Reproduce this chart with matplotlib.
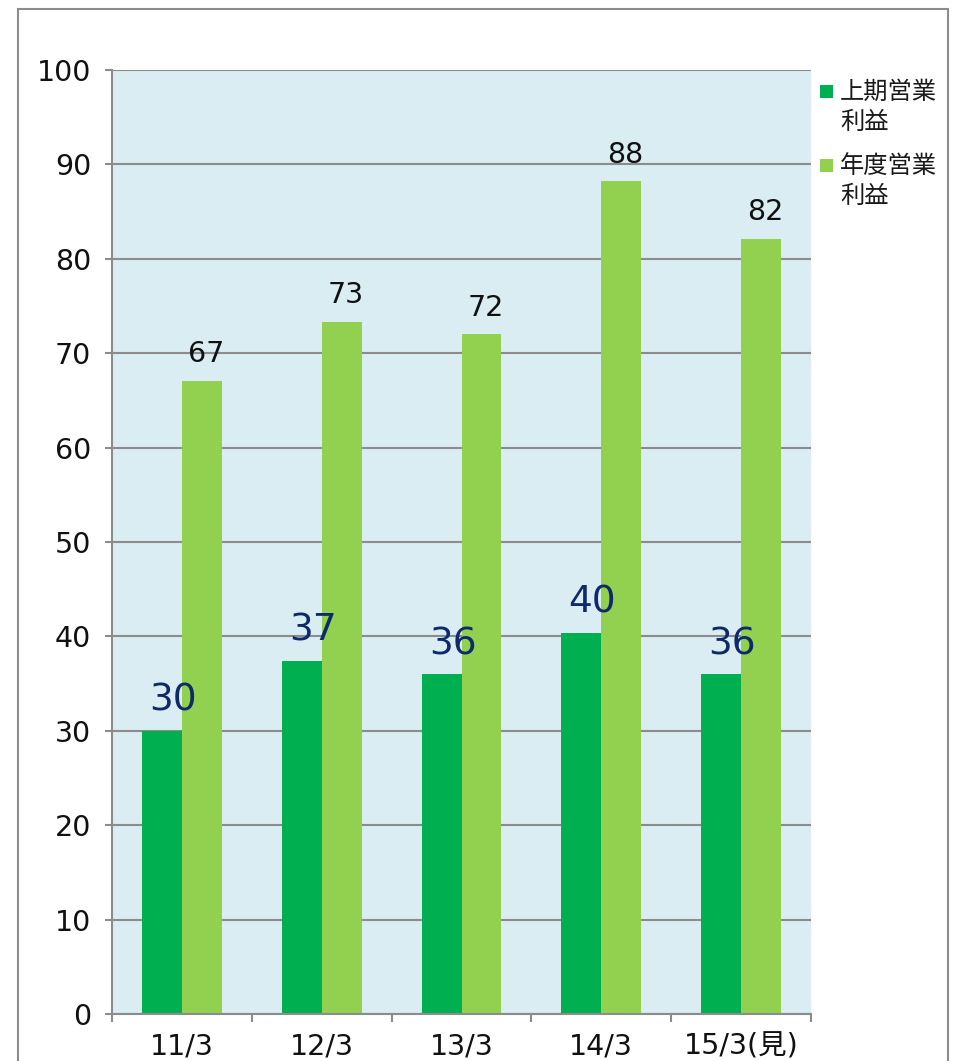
import matplotlib
matplotlib.use("Agg")
import matplotlib.pyplot as plt
from matplotlib.patches import Rectangle
import numpy as np

plt.rcParams['font.family'] = ['DejaVu Sans', 'Noto Sans CJK JP']

categories = ['11/3', '12/3', '13/3', '14/3', '15/3(見)']
half_year = [30.0, 37.4, 36.0, 40.4, 36.0]      # 上期営業利益
full_year = [67.05, 73.3, 72.0, 88.2, 82.1]     # 年度営業利益
series_names = ['上期営業\n利益', '年度営業\n利益']
yticks = [0, 10, 20, 30, 40, 50, 60, 70, 80, 90, 100]

W, H = 955, 1061
fig = plt.figure(figsize=(W / 100, H / 100), dpi=100)
fig.patch.set_facecolor('white')

def fx(px):
    return px / W

def fy(py):
    return 1 - py / H

# outer frame
fig.patches.append(Rectangle((fx(18), fy(1100)), fx(948) - fx(18), fy(9) - fy(1100),
                             transform=fig.transFigure, fill=False,
                             edgecolor='#8c8c8c', linewidth=1.5, clip_on=False))

ax = fig.add_axes([fx(112), fy(1014), fx(811) - fx(112), fy(70) - fy(1014)])
ax.set_facecolor('#daedf3')

dark = '#00b050'
light = '#92d050'
grid_c = '#8c8c8c'

x = np.arange(len(categories))
bw = 40 / 140
ax.bar(x - bw / 2, half_year, width=bw, color=dark, zorder=3)
ax.bar(x + bw / 2, full_year, width=bw, color=light, zorder=3)

for xi, v in zip(x, half_year):
    ax.annotate(f'{v:.0f}', xy=(xi - bw / 2, v), xytext=(8, 14.5),
                textcoords='offset points', ha='center', va='baseline',
                fontsize=27, color='#0f2a6b', zorder=5)
for xi, v in zip(x, full_year):
    ax.annotate(f'{v:.0f}', xy=(xi + bw / 2, v), xytext=(3, 13.5),
                textcoords='offset points', ha='center', va='baseline',
                fontsize=20.5, color='#111111', zorder=5)

ax.set_xlim(-0.5, len(categories) - 0.5)
ax.set_ylim(0, 100)
ax.set_yticks(yticks)
ax.yaxis.grid(True, color=grid_c, linewidth=1.5, zorder=1)
ax.set_axisbelow(True)
ax.tick_params(axis='y', direction='out', length=5, width=1.5, color=grid_c,
               labelsize=20.5, pad=10, labelcolor='#111111')

ax.set_xticks(np.arange(len(categories) + 1) - 0.5)
ax.set_xticklabels([])
ax.set_xticks(x, minor=True)
ax.set_xticklabels(categories, minor=True)
ax.tick_params(axis='x', which='major', direction='out', length=6, width=1.5, color=grid_c)
ax.tick_params(axis='x', which='minor', length=0, labelsize=20.5, pad=13.5,
               labelcolor='#111111')

for s in ['top', 'right']:
    ax.spines[s].set_visible(False)
for s in ['left', 'bottom']:
    ax.spines[s].set_color(grid_c)
    ax.spines[s].set_linewidth(1.5)
    ax.spines[s].set_zorder(4)

# legend (manual)
leg_colors = [dark, light]
leg_y = [92, 166]
for name, c, y0 in zip(series_names, leg_colors, leg_y):
    fig.patches.append(Rectangle((fx(820), fy(y0 + 6)), fx(13), fy(0) - fy(13),
                                 transform=fig.transFigure, facecolor=c,
                                 edgecolor='none'))
    for i, line in enumerate(name.split('\n')):
        fig.text(fx(840), fy(y0 + i * 30), line, ha='left', va='center',
                 fontsize=17.5, family=['Noto Sans CJK JP', 'DejaVu Sans'], color='#1a1a1a')

fig.savefig('out.png', dpi=100)
